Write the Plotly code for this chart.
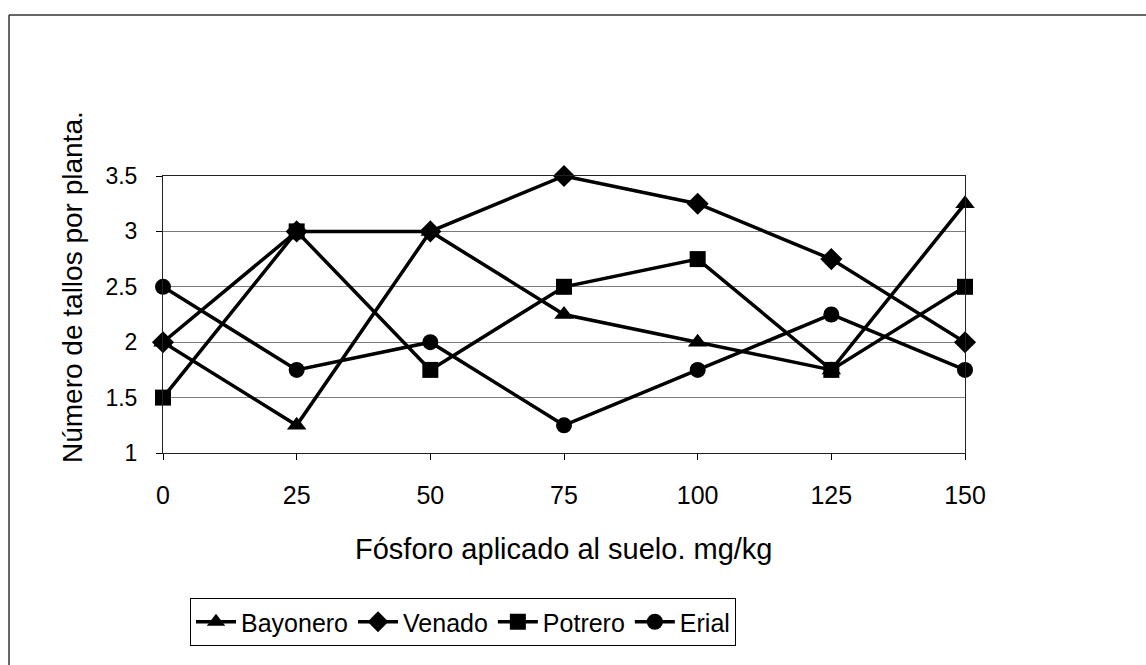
import plotly.graph_objects as go

fosforo = [0, 25, 50, 75, 100, 125, 150]
bayonero = [2.0, 1.25, 3.0, 2.25, 2.0, 1.75, 3.25]
venado = [2.0, 3.0, 3.0, 3.5, 3.25, 2.75, 2.0]
potrero = [1.5, 3.0, 1.75, 2.5, 2.75, 1.75, 2.5]
erial = [2.5, 1.75, 2.0, 1.25, 1.75, 2.25, 1.75]

series_names = ["Bayonero", "Venado", "Potrero", "Erial"]
series_values = [bayonero, venado, potrero, erial]
symbols = ["triangle-up", "diamond", "square", "circle"]
sizes = [17, 17, 16, 16]

x_ticks = [0, 25, 50, 75, 100, 125, 150]
y_ticks = [1, 1.5, 2, 2.5, 3, 3.5]
y_tick_text = ["1", "1.5", "2", "2.5", "3", "3.5"]

x_title = "Fósforo aplicado al suelo. mg/kg"
y_title = "Número de tallos por planta."

W, H = 1146, 665
L, R, T, B = 163, 181, 176, 212
pw = W - L - R
ph = H - T - B


def px(x):
    return (x - L) / pw


def py(y):
    return (H - B - y) / ph


FONT = "Liberation Sans, Arial, sans-serif"

fig = go.Figure()
for name, vals, sym, sz in zip(series_names, series_values, symbols, sizes):
    fig.add_trace(go.Scatter(
        x=fosforo, y=vals, name=name, mode="lines+markers",
        line=dict(color="black", width=3.5),
        marker=dict(symbol=sym, size=sz, color="black"),
        cliponaxis=False,
    ))

fig.update_layout(
    width=W, height=H,
    margin=dict(l=L, r=R, t=T, b=B, autoexpand=False),
    paper_bgcolor="white", plot_bgcolor="white",
    font=dict(family=FONT, color="black"),
    showlegend=True,
    legend=dict(
        orientation="h", x=px(190), xanchor="left", y=py(598), yanchor="top",
        bordercolor="black", borderwidth=1, bgcolor="white",
        font=dict(family=FONT, size=25, color="black"),
        itemwidth=40, tracegroupgap=0,
    ),
    xaxis=dict(
        range=[0, 150], tickvals=x_ticks, ticks="outside", ticklen=6,
        tickcolor="black", showgrid=False, zeroline=False,
        showline=True, linecolor="#222", linewidth=1, mirror=True,
        tickfont=dict(family=FONT, size=25, color="black"),
        ticklabelstandoff=14,
    ),
    yaxis=dict(
        range=[1, 3.5], tickvals=y_ticks, ticktext=y_tick_text,
        ticks="outside", ticklen=6, tickcolor="black",
        showgrid=True, gridcolor="#7a7a7a", gridwidth=1, zeroline=False,
        showline=True, linecolor="#222", linewidth=1, mirror=True,
        tickfont=dict(family=FONT, size=23, color="black"),
        ticklabelstandoff=14,
    ),
    annotations=[
        dict(text=x_title, xref="paper", yref="paper", x=px(564), y=py(549),
             xanchor="center", yanchor="middle", showarrow=False,
             font=dict(family=FONT, size=29, color="black")),
        dict(text=y_title, xref="paper", yref="paper", x=px(72), y=py(287),
             xanchor="center", yanchor="middle", showarrow=False, textangle=-90,
             font=dict(family=FONT, size=28, color="black")),
    ],
    shapes=[
        dict(type="line", xref="paper", yref="paper", x0=px(9), y0=py(15),
             x1=px(W), y1=py(15), line=dict(color="#333", width=1.5)),
        dict(type="line", xref="paper", yref="paper", x0=px(9), y0=py(15),
             x1=px(9), y1=py(H), line=dict(color="#333", width=1.5)),
    ],
)

fig.write_html("out.html")
